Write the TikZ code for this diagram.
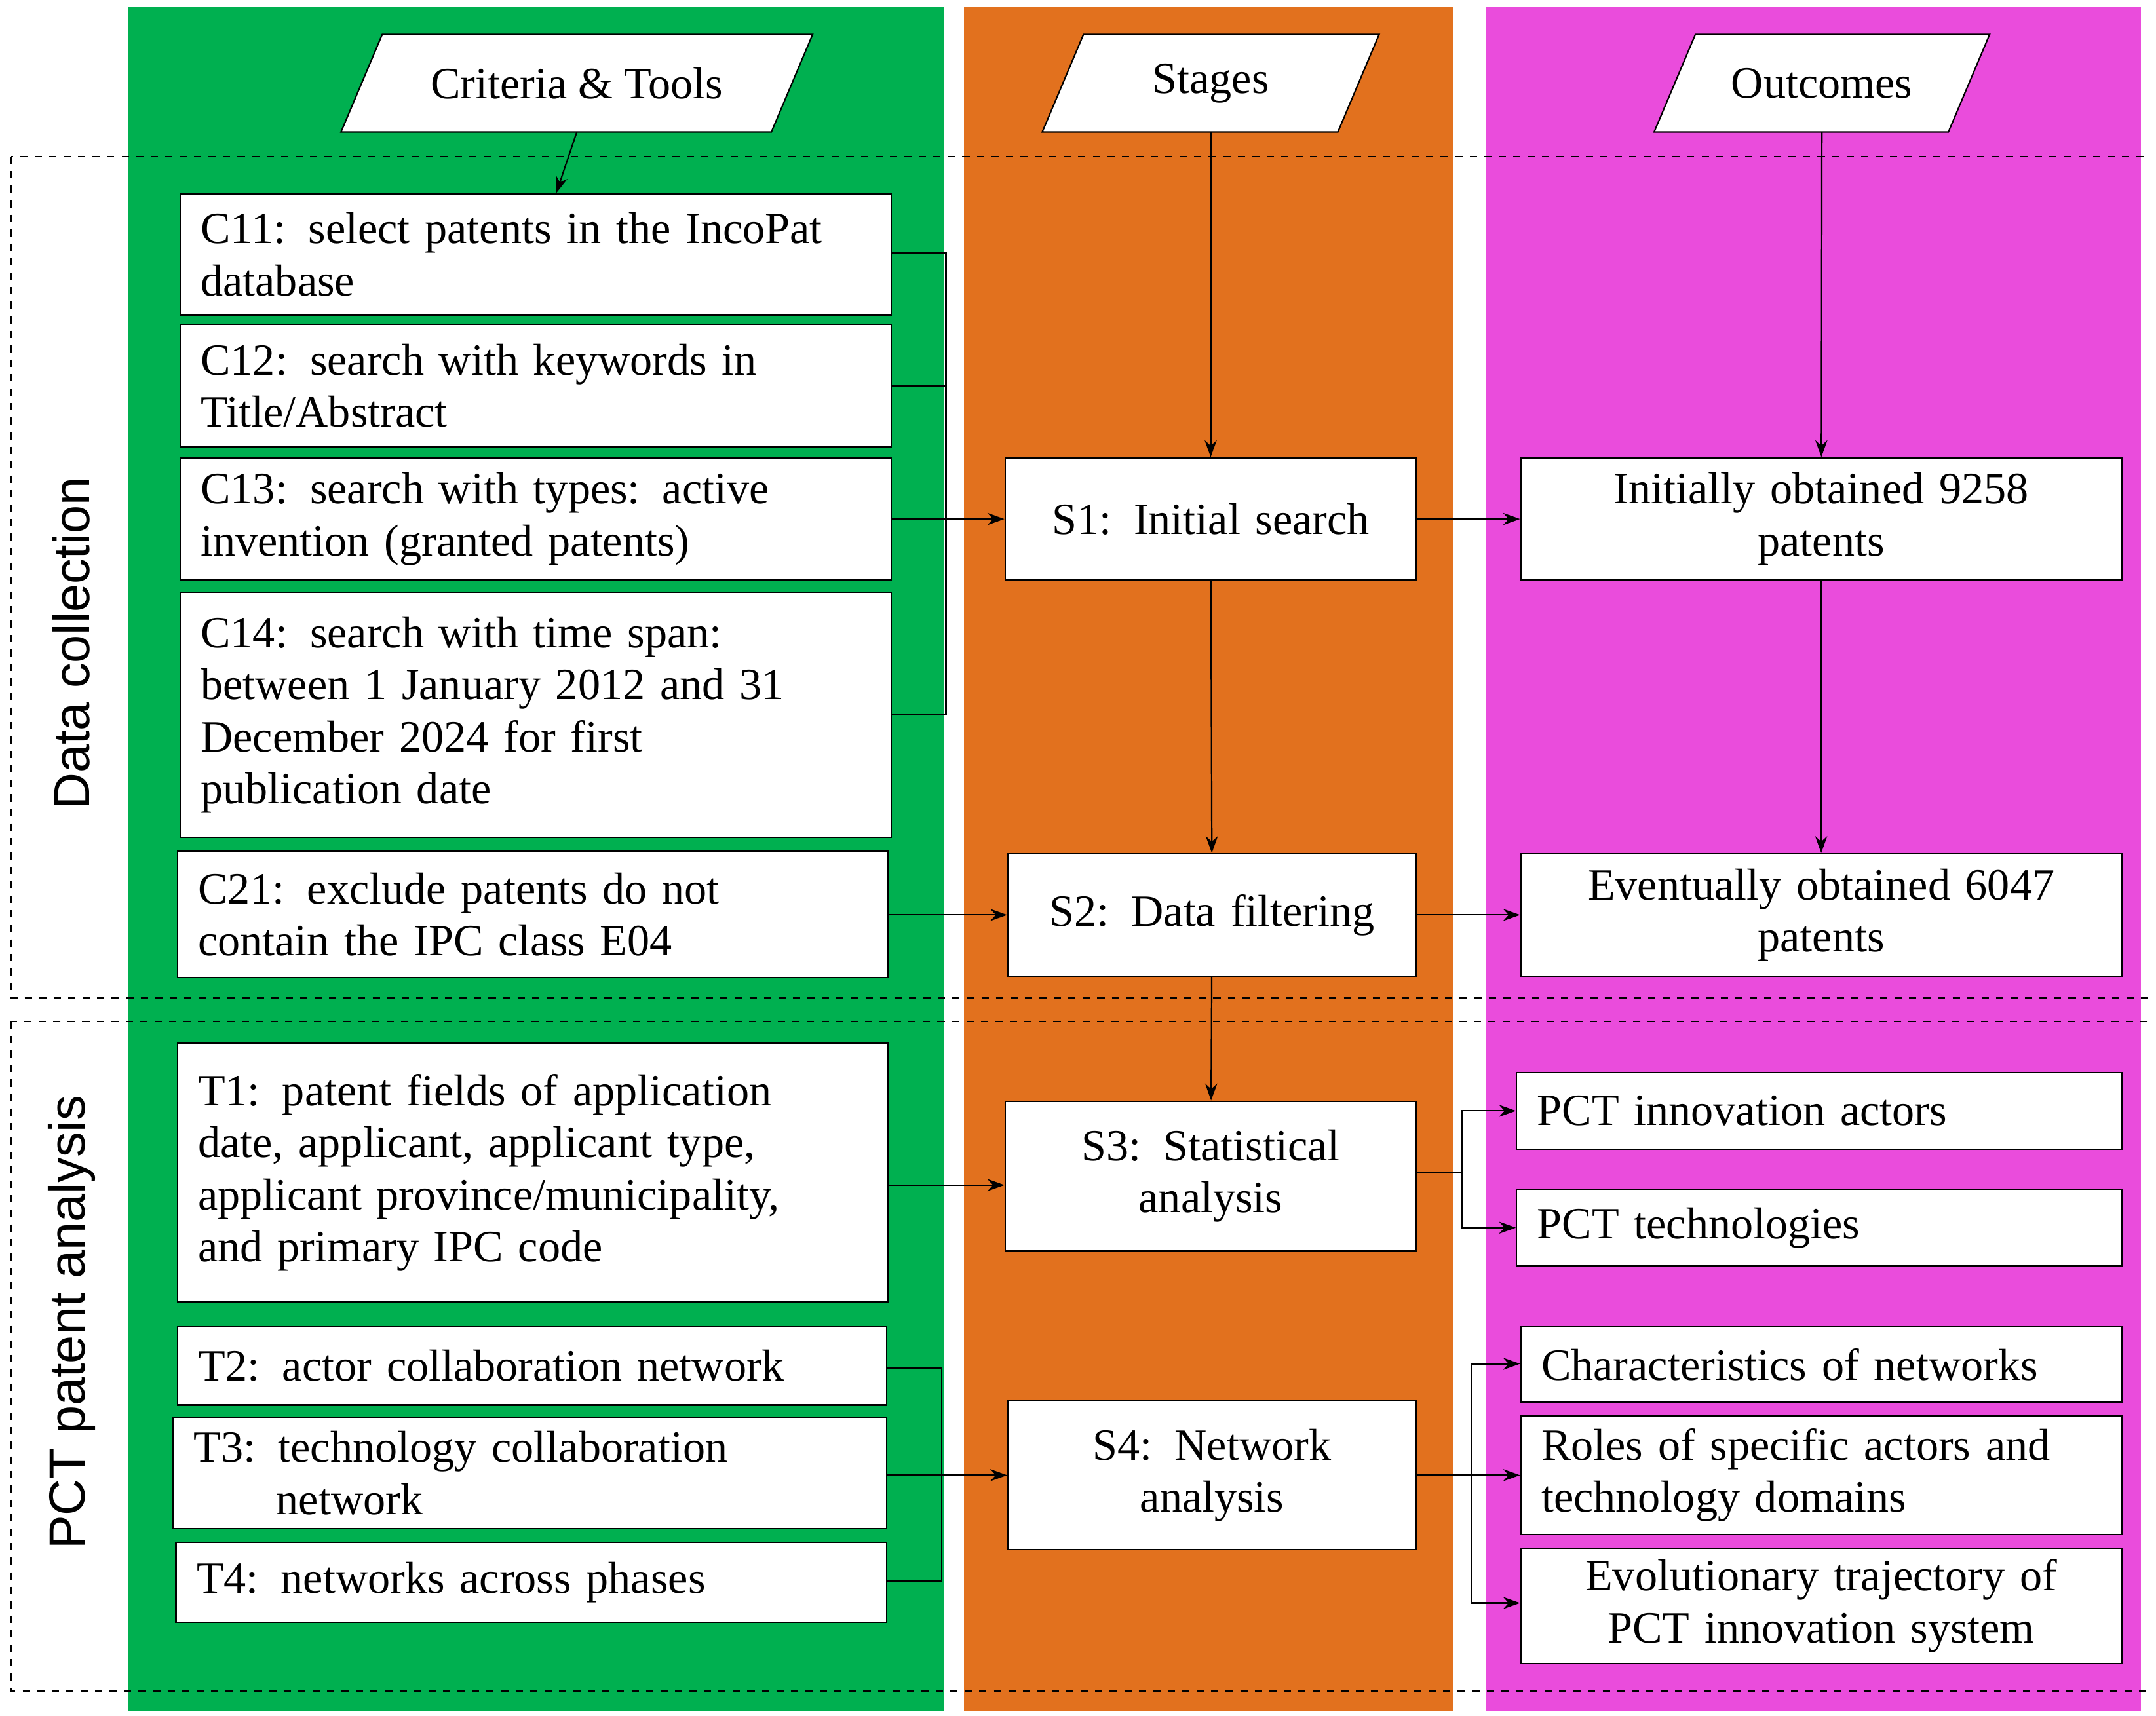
\documentclass[tikz,border=0pt]{standalone}
\usepackage{fontspec}
\setmainfont{Liberation Serif}
\newfontfamily\sidefont{Liberation Sans}
\usetikzlibrary{arrows.meta}
\definecolor{colg}{RGB}{0,176,80}
\definecolor{colo}{RGB}{226,113,30}
\definecolor{colm}{RGB}{234,76,220}
\tikzset{
  box/.style={draw, fill=white, inner xsep=0.3cm, inner ysep=0pt, font=\fontsize{18.5}{21.5}\selectfont},
  arr/.style={-{Stealth[length=7pt,width=5pt]}},
  side/.style={font=\sidefont\fontsize{21}{24}\selectfont, rotate=90},
}
\newcommand\bx[7]{\node[box, align=#6, minimum width={(#4-#2)*0.02cm}, minimum height={(#5-#3)*0.02cm}, text width={(#4-#2)*0.02cm-0.6cm}] (#1) at ({(#2+#4)/2},{(#3+#5)/2}) {#7};}
\newcommand\para[5]{\filldraw[fill=white] (#2+15,25) -- (#3+15,25) -- (#3-15,96) -- (#2-15,96) -- cycle;
  \node[font=\fontsize{18.5}{21.5}\selectfont] (#1) at ({(#2+#3)/2},60.5) {#4};
  \coordinate (#5) at ({(#2+#3)/2},96);}
\begin{document}
\begin{tikzpicture}[x=0.02cm,y=-0.02cm,line width=0.6pt]
\useasboundingbox (0,0) rectangle (1568,1248);
\fill[colg] (93,5) rectangle (687,1245);
\fill[colo] (701,5) rectangle (1057,1245);
\fill[colm] (1081,5) rectangle (1557,1245);
\draw[dashed, line width=0.5pt] (8,114) rectangle (1563,726);
\draw[dashed, line width=0.5pt] (8,743) rectangle (1563,1230);
\node[side] (dc) at (52,468) {Data collection};
\node[side] (pa) at (52,962) {PCT patent analysis};
\para{ct}{263}{576}{Criteria \& Tools}{ctb}
\para{st}{773}{988}{Stages}{stb}
\para{ou}{1218}{1432}{Outcomes}{oub}
\bx{c11}{131}{141}{648}{229}{left}{C11: select patents in the IncoPat\\database}
\bx{c12}{131}{236}{648}{325}{left}{C12: search with keywords in\\Title/Abstract}
\bx{c13}{131}{333}{648}{422}{left}{C13: search with types: active\\invention (granted patents)}
\bx{c14}{131}{431}{648}{609}{left}{C14: search with time span:\\between 1 January 2012 and 31\\December 2024 for first\\publication date}
\bx{c21}{129}{619}{646}{711}{left}{C21: exclude patents do not\\contain the IPC class E04}
\bx{s1}{731}{333}{1030}{422}{center}{S1: Initial search}
\bx{s2}{733}{621}{1030}{710}{center}{S2: Data filtering}
\bx{o1}{1106}{333}{1543}{422}{center}{Initially obtained 9258\\patents}
\bx{o2}{1106}{621}{1543}{710}{center}{Eventually obtained 6047\\patents}
\bx{t1}{129}{759}{646}{947}{left}{T1: patent fields of application\\date, applicant, applicant type,\\applicant province/municipality,\\and primary IPC code}
\bx{s3}{731}{801}{1030}{910}{center}{S3: Statistical\\analysis}
\bx{p1}{1103}{780}{1543}{836}{left}{PCT innovation actors}
\bx{p2}{1103}{865}{1543}{921}{left}{PCT technologies}
\bx{t2}{129}{965}{645}{1022}{left}{T2: actor collaboration network}
\bx{t3}{126}{1031}{645}{1112}{left}{T3: technology collaboration\\\hspace*{1.2cm}network}
\bx{t4}{128}{1122}{645}{1180}{left}{T4: networks across phases}
\bx{s4}{733}{1019}{1030}{1127}{center}{S4: Network\\analysis}
\bx{r1}{1106}{965}{1543}{1020}{left}{Characteristics of networks}
\bx{r2}{1106}{1030}{1543}{1116}{left}{Roles of specific actors and\\technology domains}
\bx{r3}{1106}{1126}{1543}{1210}{center}{Evolutionary trajectory of\\PCT innovation system}
\draw[arr] (ctb) -- (c11);
\draw[arr] (stb) -- (s1);
\draw[arr] (oub) -- (o1);
\draw[arr] (s1) -- (s2);
\draw[arr] (s2) -- (s3);
\draw[arr] (o1) -- (o2);
\draw[arr] (s1) -- (o1);
\draw[arr] (s2) -- (o2);
\draw[arr] (c21.east |- s2) -- (s2);
\coordinate (cb1) at (688,184);
\coordinate (cb2) at (688,520);
\draw (c11.east |- cb1) -- (cb1) -- (cb2) -- (c14.east |- cb2);
\draw (c12.east) -- (c12.east -| cb1);
\draw[arr] (c13.east) -- (s1.west |- c13.east);
\draw[arr] (t1.east |- 0,862) -- (s3.west |- 0,862);
\coordinate (sb) at (1063,853);
\draw (s3.east |- sb) -- (sb);
\draw[arr] (sb |- p1) -- (p1);
\draw[arr] (sb |- p2) -- (p2);
\draw (sb |- p1) -- (sb |- p2);
\coordinate (tb1) at (685,995);
\coordinate (tb2) at (685,1150);
\draw (t2.east |- tb1) -- (tb1) -- (tb2) -- (t4.east |- tb2);
\draw[arr] (t3.east |- 0,1073) -- (s4.west |- 0,1073);
\coordinate (rb) at (1070,1073);
\draw[arr] (s4.east |- rb) -- (r2.west |- rb);
\draw (rb |- 0,992) -- (rb |- 0,1166);
\draw[arr] (rb |- 0,992) -- (r1.west |- 0,992);
\draw[arr] (rb |- 0,1166) -- (r3.west |- 0,1166);
\end{tikzpicture}
\end{document}
